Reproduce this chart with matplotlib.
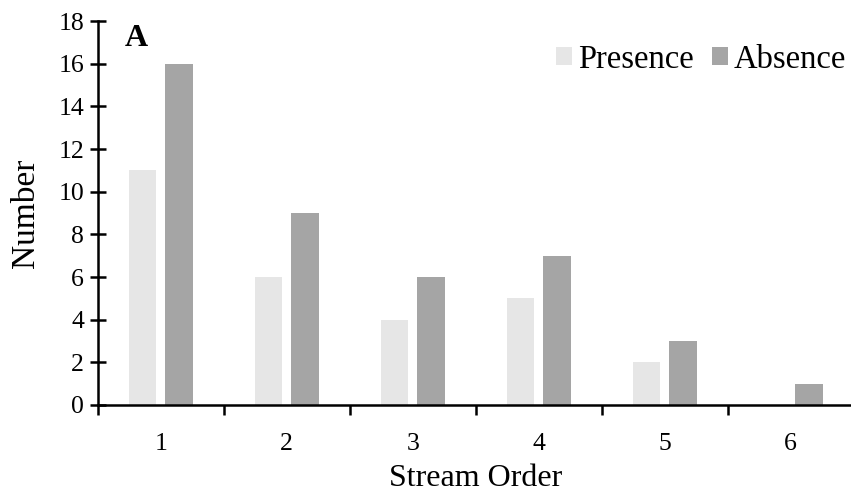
import matplotlib.pyplot as plt
import numpy as np

plt.rcParams['font.family'] = ['Liberation Serif', 'DejaVu Serif']

# Data
stream_order = ['1', '2', '3', '4', '5', '6']
presence = [11, 6, 4, 5, 2, 0]
absence = [16, 9, 6, 7, 3, 1]

fig = plt.figure(figsize=(8.51, 4.93), dpi=100)
ax = fig.add_axes([0.115, 0.1785, 0.888, 0.7785])

x = np.arange(1, len(stream_order) + 1)
w = 0.22
ax.bar(x - 0.145, presence, w, color='#e6e6e6', label='Presence')
ax.bar(x + 0.145, absence, w, color='#a5a5a5', label='Absence')

ax.set_xlim(0.5, 6.5)
ax.set_ylim(0, 18)
ax.set_yticks(range(0, 19, 2))
ax.set_xticks(x)
ax.set_xticklabels(stream_order)
ax.set_xticks(np.arange(0.5, 7, 1), minor=True)
ax.tick_params(axis='x', which='major', length=0, labelsize=18.5, pad=20)
ax.tick_params(axis='x', which='minor', length=7, width=1.8, direction='out')
ax.tick_params(axis='y', length=12, width=1.8, direction='inout', labelsize=18.5, pad=4)

for s in ['top', 'right']:
    ax.spines[s].set_visible(False)
for s in ['left', 'bottom']:
    ax.spines[s].set_linewidth(1.8)

ax.set_xlabel('Stream Order', fontsize=23)
ax.set_ylabel('Number', fontsize=24)
ax.xaxis.set_label_coords(0.5, -0.153)
ax.yaxis.set_label_coords(-0.075, 0.5)
ax.text(0.036, 0.935, 'A', transform=ax.transAxes, fontsize=23, fontweight='bold')

ax.legend(loc='center right', bbox_to_anchor=(1.012, 0.9), ncol=2, frameon=False,
          fontsize=23.5, borderpad=0, handlelength=0.49, handleheight=0.49,
          handletextpad=0.18, columnspacing=0.55)

fig.savefig('out.png', dpi=100)
